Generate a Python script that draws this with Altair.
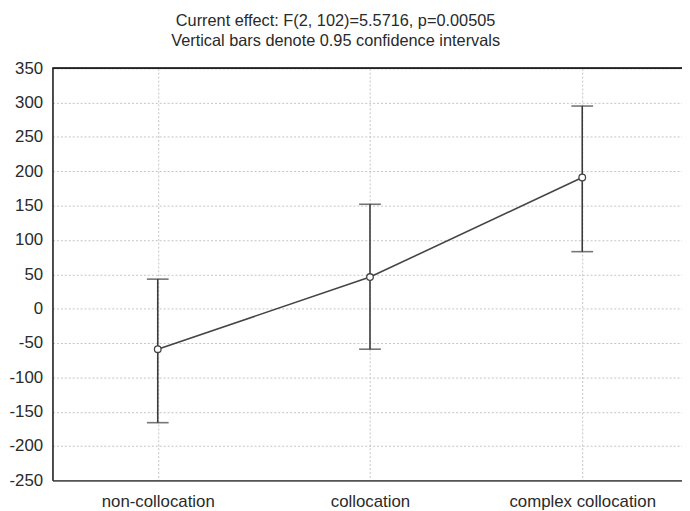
import json
import altair as alt
import pandas as pd

categories = ["non-collocation", "collocation", "complex collocation"]
means = [-59, 46, 191]
upper = [43, 152, 295]
lower = [-166, -59, 83]
y_ticks = [-250, -200, -150, -100, -50, 0, 50, 100, 150, 200, 250, 300, 350]
title_lines = ["Current effect: F(2, 102)=5.5716, p=0.00505",
               "Vertical bars denote 0.95 confidence intervals"]

df = pd.DataFrame({
    "idx": list(range(len(categories))),
    "cat": categories,
    "mean": means,
    "upper": upper,
    "lower": lower,
    "top": [y_ticks[-1]] * len(categories),
})

FONT = "Liberation Sans"
TXT = "#2a2a2a"
DARK = "#3a3a3a"

label_expr = " : ".join(
    [f"datum.value == {i} ? {json.dumps(c)}" for i, c in enumerate(categories)]
) + " : ''"

x_scale = alt.Scale(domain=[-0.496, 2.47], nice=False, zero=False)
x_axis = alt.Axis(
    values=list(range(len(categories))), labelExpr=label_expr, title=None,
    grid=True, gridColor="#c4c4c4", gridDash=[2, 2], gridWidth=1,
    ticks=False, labelPadding=13, labelFontSize=17, labelFont=FONT,
    labelColor=TXT, domain=True, domainColor="#555555", domainWidth=2,
    labelFlush=False, labelOverlap=False,
)
y_scale = alt.Scale(domain=[-250, 350], nice=False, zero=False)
y_axis = alt.Axis(
    values=y_ticks, title=None, grid=True, gridColor="#c4c4c4", gridDash=[2, 2],
    gridWidth=1, ticks=False, labelPadding=10, labelFontSize=17, labelFont=FONT,
    labelColor=TXT, domain=True, domainColor="#222222", domainWidth=1.6,
    labelFlush=False, labelOverlap=False, labelExpr="toString(datum.value)",
)


def X():
    return alt.X("idx:Q", scale=x_scale, axis=x_axis)


def Y(field):
    return alt.Y(field, type="quantitative", scale=y_scale, axis=y_axis)


base = alt.Chart(df)

bars = base.mark_rule(color=DARK, strokeWidth=1.6).encode(
    x=X(), y=Y("lower"), y2="upper:Q"
)
cap_up = base.mark_tick(orient="horizontal", color=DARK, size=22, thickness=1.6).encode(
    x=X(), y=Y("upper")
)
cap_lo = base.mark_tick(orient="horizontal", color=DARK, size=22, thickness=1.6).encode(
    x=X(), y=Y("lower")
)
line = base.mark_line(color="#444444", strokeWidth=1.6).encode(
    x=X(), y=Y("mean")
)
pts = base.mark_point(shape="circle", filled=True, fill="white", stroke="#444444",
                      strokeWidth=1.3, size=45, opacity=1).encode(
    x=X(), y=Y("mean")
)
top_border = base.mark_rule(color="#222222", strokeWidth=1.6).encode(y=Y("top"))

chart = alt.layer(bars, cap_up, cap_lo, line, pts, top_border).properties(
    width=637, height=417,
    title=alt.TitleParams(
        text=title_lines, fontSize=16.5, font=FONT, fontWeight="normal",
        color=TXT, anchor="middle", dx=-32, offset=10, lineHeight=20,
    ),
    autosize=alt.AutoSizeParams(type="none"),
    padding={"left": 45, "top": 58, "right": 0, "bottom": 28},
).configure_view(stroke=None).configure(background="white")

chart.save("out.html", embed_options={"renderer": "svg", "actions": False})
